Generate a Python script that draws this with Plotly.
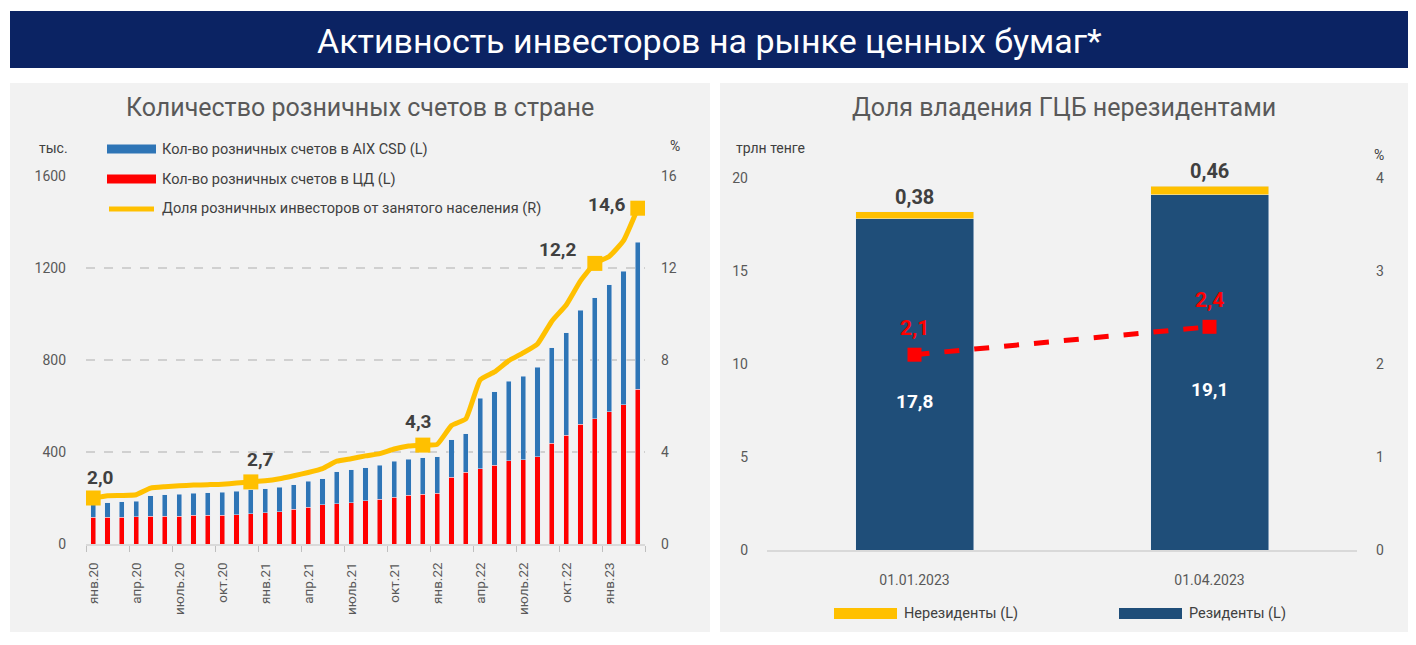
import plotly.graph_objects as go

# ---------------- DATA ----------------
months = ['янв.20', 'фев.20', 'мар.20', 'апр.20', 'май.20', 'июнь.20', 'июль.20', 'авг.20', 'сен.20',
          'окт.20', 'ноя.20', 'дек.20', 'янв.21', 'фев.21', 'мар.21', 'апр.21', 'май.21', 'июнь.21',
          'июль.21', 'авг.21', 'сен.21', 'окт.21', 'ноя.21', 'дек.21', 'янв.22', 'фев.22', 'мар.22',
          'апр.22', 'май.22', 'июнь.22', 'июль.22', 'авг.22', 'сен.22', 'окт.22', 'ноя.22', 'дек.22',
          'янв.23', 'фев.23', 'мар.23']
# thousands of accounts
accounts_cd = [116, 116, 116, 119, 121, 121, 121, 124, 125, 125, 128, 132, 135, 140, 151, 160, 170, 176,
               180, 188, 194, 203, 211, 216, 220, 290, 312, 328, 343, 362, 367, 380, 437, 472, 520, 544,
               576, 606, 673]
accounts_aix = [61, 64, 67, 66, 89, 93, 96, 96, 98, 101, 102, 104, 105, 106, 107, 112, 114, 138,
                143, 144, 148, 156, 158, 160, 160, 163, 168, 306, 320, 345, 362, 388, 416, 446, 497, 526,
                551, 579, 639]
# % of employed population
investor_share = [2.0, 2.1, 2.11, 2.14, 2.43, 2.49, 2.53, 2.56, 2.58, 2.6, 2.65, 2.7, 2.75, 2.84, 2.97,
                  3.11, 3.28, 3.6, 3.71, 3.83, 3.93, 4.13, 4.26, 4.3, 4.33, 5.15, 5.44, 7.14, 7.48, 7.97,
                  8.31, 8.7, 9.69, 10.39, 11.44, 12.2, 12.5, 13.19, 14.6]
labeled_points = [0, 11, 23, 35, 38]
tick_months = ['янв.20', 'апр.20', 'июль.20', 'окт.20', 'янв.21', 'апр.21', 'июль.21', 'окт.21',
               'янв.22', 'апр.22', 'июль.22', 'окт.22', 'янв.23']

gcb_dates = ['01.01.2023', '01.04.2023']
gcb_residents = [17.8, 19.1]       # трлн тенге
gcb_nonresidents = [0.38, 0.46]    # трлн тенге
gcb_nonres_share = [2.1, 2.4]      # %

# ---------------- STYLE ----------------
W, H = 1416, 645
FONT = "Roboto, sans-serif"
GRAY = "#595959"
DARK = "#404040"
BLUE = "#2E75B6"
RED = "#FF0000"
GOLD = "#FFC000"
NAVY = "#1F4E79"
PANEL = "#F2F2F2"


def px(x):
    return x / W


def py(y):
    return 1 - y / H


def fmt(v, nd=1):
    return f"{v:.{nd}f}".replace(".", ",")


def note(x, y, text, size, color=DARK, xanchor="center", weight="normal", family=FONT):
    return dict(x=px(x), y=py(y), xref="paper", yref="paper", text=text, showarrow=False,
                xanchor=xanchor, yanchor="middle",
                font=dict(family=family, size=size, color=color, weight=weight))


xidx = list(range(len(months)))

fig = go.Figure()

# ---- Left chart ----
fig.add_trace(go.Bar(x=xidx, y=accounts_cd, marker_color=RED, width=0.36, name="Кол-во розничных счетов в ЦД (L)",
                     xaxis="x", yaxis="y", showlegend=False, hoverinfo="skip"))
fig.add_trace(go.Bar(x=xidx, y=accounts_aix, marker_color=BLUE, width=0.36,
                     name="Кол-во розничных счетов в AIX CSD (L)", xaxis="x", yaxis="y", showlegend=False,
                     hoverinfo="skip"))
msizes = [15 if i in labeled_points else 0 for i in xidx]
fig.add_trace(go.Scatter(x=xidx, y=investor_share, mode="lines+markers",
                         line=dict(color=GOLD, width=5, shape="spline", smoothing=0.4),
                         marker=dict(symbol="square", size=msizes, color=GOLD, opacity=1, line=dict(width=0)),
                         name="Доля розничных инвесторов от занятого населения (R)",
                         xaxis="x", yaxis="y2", showlegend=False, hoverinfo="skip"))

# ---- Right chart ----
fig.add_trace(go.Bar(x=gcb_dates, y=gcb_residents, marker_color=NAVY, width=0.4, name="Резиденты (L)",
                     xaxis="x2", yaxis="y3", showlegend=False, hoverinfo="skip"))
fig.add_trace(go.Bar(x=gcb_dates, y=gcb_nonresidents, marker_color=GOLD, width=0.4, name="Нерезиденты (L)",
                     xaxis="x2", yaxis="y3", showlegend=False, hoverinfo="skip"))
fig.add_trace(go.Scatter(x=gcb_dates, y=gcb_nonres_share, mode="lines+markers",
                         line=dict(color=RED, width=5, dash="dash"),
                         marker=dict(symbol="square", size=14, color=RED, opacity=1),
                         name="Доля нерезидентов", xaxis="x2", yaxis="y4", showlegend=False, hoverinfo="skip"))

annotations = []

# labels on the gold line
label_offsets = {0: (7, 21), 11: (10, 22), 23: (-5, 24), 35: (-37, 14), 38: (-31, 4)}
for i in labeled_points:
    dx, dy = label_offsets[i]
    annotations.append(dict(x=xidx[i], y=investor_share[i], xref="x", yref="y2", text=fmt(investor_share[i]),
                            showarrow=False, xshift=dx, yshift=dy, xanchor="center", yanchor="middle",
                            font=dict(family=FONT, size=19, color=DARK, weight="bold")))

# labels on right chart
for d, r, n in zip(gcb_dates, gcb_residents, gcb_nonresidents):
    annotations.append(dict(x=d, y=r / 2, xref="x2", yref="y3", text=fmt(r), showarrow=False, yshift=-17,
                            xanchor="center", yanchor="middle",
                            font=dict(family=FONT, size=19, color="white", weight="bold")))
    annotations.append(dict(x=d, y=r + n, xref="x2", yref="y3", text=fmt(n, 2), showarrow=False, yshift=15,
                            xanchor="center", yanchor="middle",
                            font=dict(family=FONT, size=20, color=DARK, weight="bold")))
for d, s in zip(gcb_dates, gcb_nonres_share):
    annotations.append(dict(x=d, y=s, xref="x2", yref="y4", text=fmt(s), showarrow=False, yshift=27,
                            xanchor="center", yanchor="middle",
                            font=dict(family=FONT, size=21, color=RED, weight="bold")))

# titles & units
annotations += [
    note(709, 41, "Активность инвесторов на рынке ценных бумаг*", 34, color="white"),
    note(360, 108, "Количество розничных счетов в стране", 25, color=GRAY),
    note(1064, 108, "Доля владения ГЦБ нерезидентами", 25, color=GRAY),
    note(53, 148, "тыс.", 14, color=DARK),
    note(675, 146, "%", 14, color=DARK),
    note(734, 148, "трлн тенге", 14, color=DARK, xanchor="left"),
    note(1379, 155, "%", 14, color=DARK),
]

# left legend (manual)
leg_left = [("Кол-во розничных счетов в AIX CSD (L)", BLUE, "rect", 149),
            ("Кол-во розничных счетов в ЦД (L)", RED, "rect", 179),
            ("Доля розничных инвесторов от занятого населения (R)", GOLD, "line", 209)]
shapes = [
    dict(type="rect", xref="paper", yref="paper", x0=px(10), x1=px(1408), y0=py(68), y1=py(11),
         fillcolor="#0B2363", line=dict(width=0), layer="below"),
    dict(type="rect", xref="paper", yref="paper", x0=px(10), x1=px(710), y0=py(632), y1=py(83),
         fillcolor=PANEL, line=dict(width=0), layer="below"),
    dict(type="rect", xref="paper", yref="paper", x0=px(720), x1=px(1408), y0=py(632), y1=py(83),
         fillcolor=PANEL, line=dict(width=0), layer="below"),
]
for text, color, kind, yy in leg_left:
    if kind == "rect":
        shapes.append(dict(type="rect", xref="paper", yref="paper", x0=px(107), x1=px(156), y0=py(yy + 4.5),
                           y1=py(yy - 4.5), fillcolor=color, line=dict(width=0)))
    else:
        shapes.append(dict(type="line", xref="paper", yref="paper", x0=px(109), x1=px(154), y0=py(yy),
                           y1=py(yy), line=dict(color=color, width=5)))
    annotations.append(note(160, yy, text, 14.5, color=DARK, xanchor="left"))

# right legend (manual)
leg_right = [("Нерезиденты (L)", GOLD, 834), ("Резиденты (L)", NAVY, 1119)]
for text, color, xx in leg_right:
    shapes.append(dict(type="rect", xref="paper", yref="paper", x0=px(xx), x1=px(xx + 63), y0=py(619),
                       y1=py(608), fillcolor=color, line=dict(width=0)))
    annotations.append(note(xx + 68, 613, text, 14.5, color=DARK, xanchor="left"))

tickfont = dict(family=FONT, size=14, color=GRAY)

fig.update_layout(
    width=W, height=H,
    margin=dict(l=0, r=0, t=0, b=0, autoexpand=False),
    paper_bgcolor="white", plot_bgcolor="rgba(0,0,0,0)",
    barmode="stack",
    showlegend=False,
    xaxis=dict(domain=[px(86), px(645)], range=[-0.5, 38.5], anchor="y",
               tickvals=[months.index(m) for m in tick_months], ticktext=tick_months,
               tickangle=-90, ticks="", tickfont=dict(family=FONT, size=13.5, color=GRAY),
               ticklabelstandoff=11,
               minor=dict(ticks="outside", tick0=-0.5, dtick=3, ticklen=6, tickcolor="#BFBFBF", tickwidth=1,
                          showgrid=False),
               showline=True, linecolor="#D9D9D9", linewidth=2, showgrid=False, zeroline=False),
    yaxis=dict(domain=[py(544), py(176)], range=[0, 1600], tickvals=[0, 400, 800, 1200, 1600],
               tickfont=tickfont, showgrid=True, gridcolor="#D0D0D0", griddash="dash", gridwidth=1.5,
               zeroline=False, ticks="", ticklabelstandoff=19, anchor="x"),
    yaxis2=dict(overlaying="y", side="right", range=[0, 16], tickvals=[0, 4, 8, 12, 16], tickfont=tickfont,
                showgrid=False, zeroline=False, ticks="", ticklabelstandoff=15, anchor="x"),
    xaxis2=dict(domain=[px(767), px(1357)], anchor="y3", tickfont=dict(family=FONT, size=14, color=GRAY),
                showline=True, linecolor="#D9D9D9", linewidth=2, ticks="", ticklabelstandoff=16,
                showgrid=False, zeroline=False),
    yaxis3=dict(domain=[py(550), py(178)], range=[0, 20], tickvals=[0, 5, 10, 15, 20], tickfont=tickfont,
                showgrid=False, zeroline=False, ticks="", ticklabelstandoff=18, anchor="x2"),
    yaxis4=dict(overlaying="y3", side="right", range=[0, 4], tickvals=[0, 1, 2, 3, 4], tickfont=tickfont,
                showgrid=False, zeroline=False, ticks="", ticklabelstandoff=18, anchor="x2"),
    annotations=annotations,
    shapes=shapes,
    bargap=0.64,
)

fig.write_html("out.html", config={"displayModeBar": False},
               post_script="document.body.style.margin='0';document.body.style.overflow='hidden';")
